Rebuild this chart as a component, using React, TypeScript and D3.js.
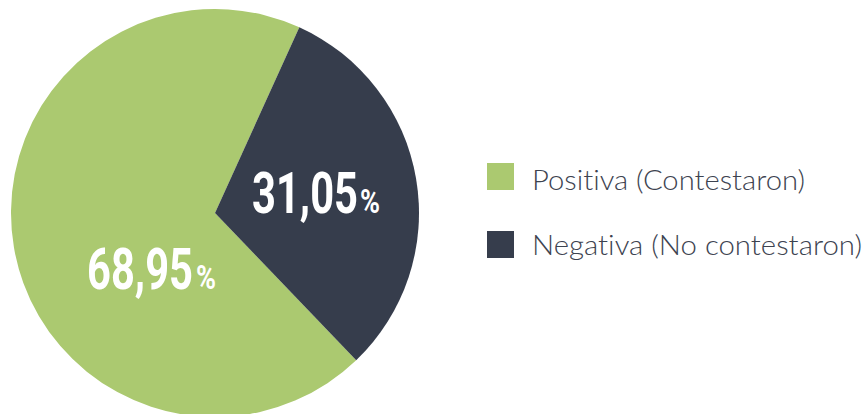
import React from "react";
import * as d3 from "d3";

const categories = ["Positiva (Contestaron)", "Negativa (No contestaron)"];
const values = [68.95, 31.05];
const labels = ["68,95", "31,05"];
const colors = ["#abc970", "#363d4c"];

const W = 867;
const H = 414;
const cx = 215;
const cy = 213;
const R = 204;
const startDeg = 136.2;

export default function App() {
  const pie = d3
    .pie<number>()
    .sort(null)
    .value((d) => d)
    .startAngle((startDeg * Math.PI) / 180)
    .endAngle(((startDeg + 360) * Math.PI) / 180);
  const arcs = pie(values);
  const arc = d3.arc<d3.PieArcDatum<number>>().innerRadius(0).outerRadius(R);

  const labelPos = [
    { x: 87, y: 289, w: 106, px: 196 },
    { x: 252, y: 213, w: 106, px: 360 },
  ];

  return (
    <svg
      width={W}
      height={H}
      style={{ position: "absolute", left: 0, top: 0, background: "#fff" }}
    >
      <g transform={`translate(${cx},${cy})`}>
        {arcs.map((a, i) => (
          <path key={i} d={arc(a) || ""} fill={colors[i]} />
        ))}
      </g>
      {labels.map((l, i) => {
        const p = labelPos[i];
        return (
          <g key={i} fill="#fff" fontFamily="Roboto, 'DejaVu Sans Condensed', sans-serif" fontWeight="bold">
            <text
              x={p.x}
              y={p.y}
              fontSize={58}
              textLength={p.w}
              lengthAdjust="spacingAndGlyphs"
            >
              {l}
            </text>
            <text
              x={p.px}
              y={p.y}
              fontSize={34}
              textLength={20}
              lengthAdjust="spacingAndGlyphs"
            >
              %
            </text>
          </g>
        );
      })}
      {categories.map((c, i) => (
        <g key={c}>
          <rect x={487} y={163 + i * 68} width={27} height={27} fill={colors[i]} />
          <text
            x={532}
            y={190 + i * 65}
            fontSize={27}
            fontWeight={300}
            fontFamily="Lato, 'Open Sans', sans-serif"
            fill="#3d4350"
            style={{ fontVariantLigatures: "none" }}
            textLength={i === 0 ? 273 : 330}
            lengthAdjust="spacingAndGlyphs"
          >
            {c}
          </text>
        </g>
      ))}
    </svg>
  );
}
